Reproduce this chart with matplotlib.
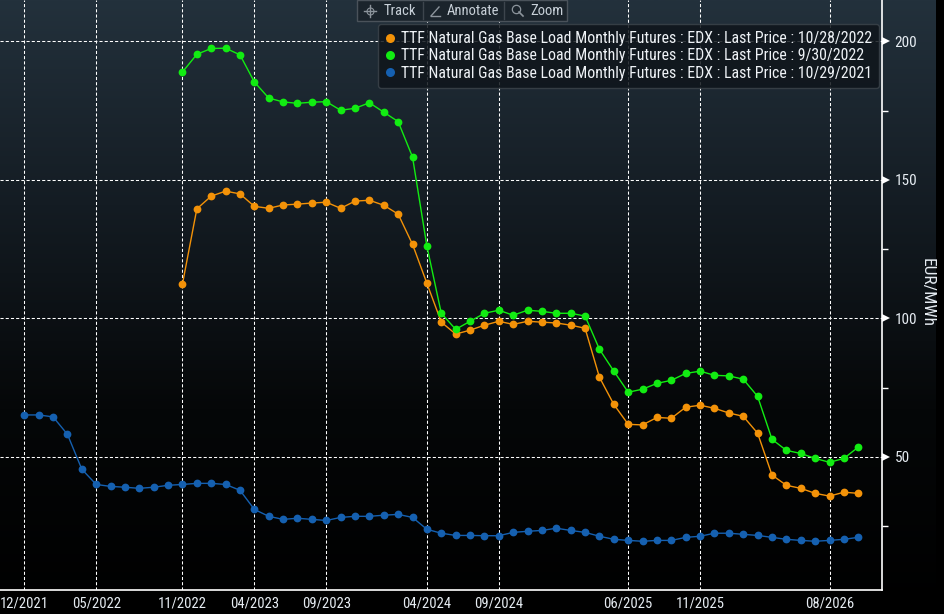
import numpy as np
import matplotlib
matplotlib.use("Agg")
import matplotlib.pyplot as plt
from matplotlib import font_manager
from matplotlib.lines import Line2D
from matplotlib.patches import Rectangle

# pick a narrow font if there is one
names = set(f.name for f in font_manager.fontManager.ttflist)
font = "DejaVu Sans"
for cand in ["Liberation Sans Narrow", "DejaVu Sans Condensed", "Roboto Condensed", "Open Sans Condensed", "Liberation Sans"]:
    if cand in names:
        font = cand
        break
plt.rcParams['font.family'] = [font, 'DejaVu Sans']

# month index 0 = 12/2021
tick_pos = [0, 5, 11, 16, 21, 28, 33, 42, 47, 56]
tick_labels = ["12/2021", "05/2022", "11/2022", "04/2023", "09/2023",
               "04/2024", "09/2024", "06/2025", "11/2025", "08/2026"]

# curve of 10/29/2021, contracts 12/2021 .. 10/2026
blue = [65.1, 65.1, 64.4, 58.1, 45.5, 40.0, 39.3, 39.0, 38.6, 39.0, 39.7, 40.0,
        40.4, 40.4, 40.0, 37.9, 31.0, 28.5, 27.4, 27.8, 27.4, 27.0, 28.1, 28.5,
        28.5, 28.9, 29.2, 28.1, 23.8, 22.4, 21.6, 21.6, 21.5, 21.5, 22.7, 23.1,
        23.4, 24.2, 23.4, 22.7, 21.3, 20.2, 19.8, 19.5, 19.8, 19.8, 20.9, 21.3,
        22.4, 22.4, 22.0, 21.6, 20.9, 20.2, 19.8, 19.5, 19.8, 20.2, 20.9]

# curves of 10/28/2022 and 9/30/2022, contracts 11/2022 .. 10/2026
orange = [112.4, 139.5, 144.1, 145.9, 144.9, 140.4, 139.7, 140.9, 141.2, 141.6,
          141.9, 139.7, 142.3, 142.6, 140.8, 137.6, 126.7, 112.6, 98.6, 94.3,
          95.7, 97.5, 98.9, 97.8, 98.9, 98.6, 98.3, 97.5, 96.4, 78.7, 68.9, 61.7,
          61.5, 64.2, 63.9, 67.9, 68.6, 67.5, 65.8, 64.6, 58.5, 43.4, 39.7, 38.6,
          36.8, 35.8, 37.2, 36.8]
green = [188.9, 195.3, 197.4, 197.5, 195.1, 185.3, 179.5, 178.1, 177.6, 178.0,
         178.2, 175.1, 175.8, 177.8, 174.4, 171.0, 158.2, 126.0, 101.8, 96.0,
         98.9, 101.8, 102.9, 101.1, 102.9, 102.5, 101.8, 101.8, 100.8, 88.8, 80.9, 73.3,
         74.4, 76.5, 77.6, 80.1, 80.9, 79.4, 79.2, 78.0, 71.8, 56.3, 52.3, 51.2,
         49.4, 48.0, 49.4, 53.5]

labels = ["TTF Natural Gas Base Load Monthly Futures : EDX : Last Price : 10/28/2022",
          "TTF Natural Gas Base Load Monthly Futures : EDX : Last Price : 9/30/2022",
          "TTF Natural Gas Base Load Monthly Futures : EDX : Last Price : 10/29/2021"]
colors = ["#f39208", "#12ec12", "#1560b0"]

W, H = 944, 614
fig = plt.figure(figsize=(W / 100, H / 100), dpi=100, facecolor="black")

# background gradient
bg = fig.add_axes([0, 0, 936 / W, 1])
grad = np.linspace(0, 1, 256).reshape(-1, 1)
cm = matplotlib.colors.LinearSegmentedColormap.from_list(
    "bb", ["#23313c", "#141c23", "#050708", "#000000"])
bg.imshow(grad, aspect="auto", cmap=cm, extent=[0, 1, 0, 1], origin="upper")
bg.axis("off")

ax = fig.add_axes([0, 1 - 590 / H, 882 / W, 590 / H])
ax.set_facecolor("none")

x_blue = np.arange(len(blue))
x_late = np.arange(len(orange)) + 11

ax.plot(x_late, orange, color=colors[0], lw=1.0, marker="o", ms=5.6, mew=0, zorder=4)
ax.plot(x_late, green, color=colors[1], lw=1.0, marker="o", ms=5.6, mew=0, zorder=4)
ax.plot(x_blue, blue, color=colors[2], lw=1.0, marker="o", ms=5.6, mew=0, zorder=4)

ax.set_xlim(-1.69, 59.65)
ax.set_ylim(1.9, 214.9)

ax.set_xticks(tick_pos)
ax.set_xticklabels(tick_labels)
ax.set_yticks([50, 100, 150, 200])
ax.set_yticks([25, 75, 125, 175], minor=True)
ax.yaxis.tick_right()
ax.tick_params(axis="x", length=0, pad=5, labelsize=10.5, labelcolor="#e6ecf2")
ax.tick_params(axis="y", which="major", length=0, pad=9, labelsize=11, labelcolor="#e6ecf2")
ax.tick_params(axis="y", which="minor", length=4, width=1, color="white", direction="out")
ax.grid(True, which="major", color="white", lw=0.75, ls=(0, (3, 2)))

for s in ["top", "left"]:
    ax.spines[s].set_visible(False)
for s in ["bottom", "right"]:
    ax.spines[s].set_color("white")
    ax.spines[s].set_linewidth(1.2)

# arrow heads at the major y ticks
for v in [50, 100, 150, 200]:
    ax.plot([1.004], [v], marker=">", ms=6, color="white", mew=0,
            transform=ax.get_yaxis_transform(), clip_on=False)

fig.text(927 / W, 1 - 292 / H, "EUR/MWh", rotation=-90, ha="center", va="center",
         color="#e6ecf2", fontsize=12.5)

# legend
handles = [Line2D([], [], ls="none", marker="o", ms=6.5, mew=0, color=c) for c in colors]
leg = ax.legend(handles, labels, loc="upper right",
                bbox_to_anchor=(879 / W, 1 - 24 / H), bbox_transform=fig.transFigure,
                fontsize=11.4, labelcolor="#eef2f6", frameon=True, fancybox=True,
                facecolor="#0f151b", edgecolor="#3b434a", framealpha=0.85,
                handlelength=0.6, handletextpad=0.4, labelspacing=0.14,
                borderpad=0.45, borderaxespad=0)
leg.get_frame().set_linewidth(1)
leg.set_zorder(6)

# toolbar
def px(x, y):
    return x / W, 1 - y / H

tb = Rectangle(px(357, 21), 210 / W, 21 / H, transform=fig.transFigure,
               facecolor="#1b242c", edgecolor="#4a525a", lw=1, zorder=8)
fig.patches.append(tb)
icol = "#8c949c"
for xs in [423, 504]:
    fig.add_artist(Line2D([xs / W, xs / W], [1 - 2 / H, 1 - 19 / H], color="#3d454d", lw=1, zorder=9))
tcol = "#c8d0d8"
fig.text(*px(384, 11), "Track", color=tcol, fontsize=10.5, va="center", ha="left", zorder=9)
fig.text(*px(447, 11), "Annotate", color=tcol, fontsize=10.5, va="center", ha="left", zorder=9)
fig.text(*px(530, 11), "Zoom", color=tcol, fontsize=10.5, va="center", ha="left", zorder=9)
# icons
fig.add_artist(Line2D(*zip(px(364, 11), px(376, 11)), color=icol, lw=1, zorder=9))
fig.add_artist(Line2D(*zip(px(370, 5), px(370, 17)), color=icol, lw=1, zorder=9))
fig.add_artist(Line2D([px(370, 11)[0]], [px(370, 11)[1]], marker="o", ms=5, mfc="none",
                      mec=icol, mew=0.8, zorder=9))
fig.add_artist(Line2D(*zip(px(431, 16), px(439, 7)), color=icol, lw=1, zorder=9))
fig.add_artist(Line2D(*zip(px(431, 16), px(440, 16)), color=icol, lw=1, zorder=9))
fig.add_artist(Line2D([px(516, 9)[0]], [px(516, 9)[1]], marker="o", ms=6, mfc="none",
                      mec=icol, mew=0.9, zorder=9))
fig.add_artist(Line2D(*zip(px(519, 12), px(523, 16)), color=icol, lw=1.2, zorder=9))

fig.savefig("out.png", dpi=100, facecolor="black")
